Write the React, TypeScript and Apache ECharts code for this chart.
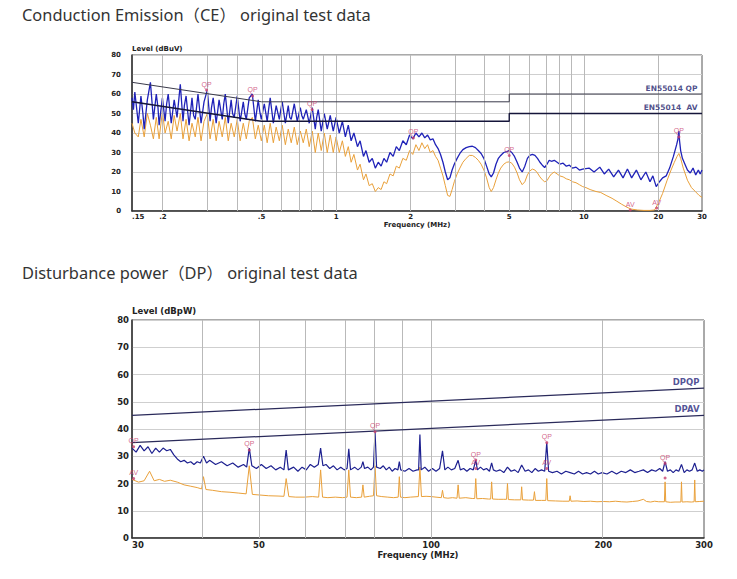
import React, { useEffect, useRef } from 'react';
import * as echarts from 'echarts';

// ---------- Chart 1: Conduction Emission ----------
const ceXTicks = [0.15, 0.2, 0.5, 1, 2, 5, 10, 20, 30];
const ceXTickLabels = ['.15', '.2', '.5', '1', '2', '5', '10', '20', '30'];
const ceGridFreqs = [0.2, 0.3, 0.4, 0.5, 0.6, 0.7, 0.8, 0.9, 1, 2, 3, 4, 5, 6, 7, 8, 9, 10, 20];

const ceLimitQP = [[0.15, 66], [0.5, 56], [5, 56], [5, 60], [30, 60]];
const ceLimitAV = [[0.15, 56], [0.5, 46], [5, 46], [5, 50], [30, 50]];

const ceQP = [
  [0.150, 58], [0.152, 52], [0.154, 61], [0.159, 45], [0.163, 59], [0.166, 50], [0.168, 42], [0.173, 57], [0.178, 66], [0.183, 47],
  [0.188, 60], [0.191, 53], [0.193, 44], [0.199, 58], [0.204, 46], [0.207, 55], [0.210, 60], [0.216, 45], [0.222, 57], [0.228, 48],
  [0.235, 65], [0.241, 46], [0.244, 54], [0.248, 59], [0.255, 44], [0.262, 58], [0.266, 49], [0.270, 47], [0.277, 60], [0.285, 45],
  [0.293, 56], [0.302, 62], [0.310, 46], [0.314, 53], [0.319, 58], [0.328, 45], [0.337, 57], [0.347, 47], [0.352, 55], [0.357, 60],
  [0.367, 45], [0.377, 57], [0.382, 50], [0.388, 48], [0.399, 59], [0.410, 46], [0.422, 56], [0.428, 50], [0.434, 47], [0.446, 58],
  [0.459, 60], [0.472, 46], [0.485, 57], [0.492, 51], [0.499, 47], [0.513, 55], [0.527, 46], [0.534, 52], [0.542, 58], [0.558, 45],
  [0.573, 54], [0.590, 47], [0.598, 52], [0.606, 56], [0.624, 45], [0.641, 54], [0.650, 48], [0.659, 47], [0.678, 55], [0.697, 46],
  [0.717, 53], [0.727, 49], [0.737, 47], [0.758, 52], [0.779, 45], [0.801, 53], [0.824, 42], [0.835, 48], [0.847, 52], [0.871, 41],
  [0.896, 50], [0.921, 42], [0.947, 49], [0.960, 45], [0.974, 41], [1.00, 48], [1.03, 40], [1.06, 46], [1.09, 38],
  [1.12, 44], [1.15, 36], [1.18, 40], [1.22, 33], [1.25, 36], [1.29, 28], [1.32, 31], [1.36, 25],
  [1.40, 27], [1.44, 22], [1.48, 25], [1.52, 23], [1.56, 27], [1.60, 25], [1.65, 30], [1.70, 28],
  [1.75, 33], [1.80, 31], [1.86, 36], [1.92, 34], [1.98, 39], [2.04, 37], [2.10, 40], [2.16, 38],
  [2.22, 40], [2.28, 37.5], [2.34, 39], [2.40, 36.5], [2.46, 37], [2.52, 34], [2.58, 32], [2.64, 29],
  [2.70, 25], [2.76, 20], [2.82, 16], [2.88, 17], [2.94, 21], [3.00, 24], [3.08, 27], [3.16, 29.5],
  [3.25, 31.5], [3.35, 32.5], [3.45, 33], [3.55, 33.2], [3.65, 32.5], [3.75, 31], [3.85, 29.5], [3.95, 27],
  [4.05, 23], [4.15, 19], [4.23, 17.5], [4.32, 19.5], [4.42, 24], [4.52, 27], [4.62, 28.5], [4.75, 30],
  [4.88, 30.5], [5.0, 31], [5.12, 30], [5.25, 28], [5.38, 25], [5.5, 22], [5.64, 20], [5.78, 23],
  [5.92, 27], [6.05, 28.5], [6.2, 29], [6.35, 28.5], [6.5, 27], [6.65, 25], [6.8, 23.5], [6.95, 22.3],
  [7.1, 24], [7.25, 26], [7.4, 25.5], [7.6, 26], [7.8, 25], [8.0, 24], [8.25, 24.5], [8.5, 23],
  [8.75, 23.5], [9.0, 22], [9.3, 22.5], [9.6, 21], [9.9, 21.5], [10.5, 22], [11.0, 20], [11.6, 22.5],
  [12.1, 19], [12.6, 21.5], [13.2, 17.5], [13.8, 21], [14.4, 17], [15.0, 21.5], [15.6, 17], [16.3, 21],
  [17.0, 16], [17.8, 20], [18.5, 15], [19.0, 18], [19.6, 12.5], [20.2, 15], [20.8, 17], [21.5, 18],
  [22.2, 22], [23.0, 28], [23.7, 34], [24.0, 37], [24.2, 41], [24.35, 36], [24.6, 31], [25.0, 27],
  [25.6, 24], [26.2, 21], [26.9, 19.5], [27.6, 22], [28.3, 18.5], [29.0, 21], [29.5, 19], [30, 21],
];

const ceAV = [
  [0.150, 45], [0.154, 40], [0.159, 38], [0.163, 47], [0.168, 38], [0.173, 50], [0.178, 44], [0.183, 37],
  [0.188, 48], [0.193, 37], [0.199, 51], [0.204, 40], [0.210, 46], [0.216, 37], [0.222, 49], [0.228, 41],
  [0.235, 50], [0.241, 37], [0.248, 47], [0.255, 36], [0.262, 45], [0.270, 38], [0.277, 48], [0.285, 36],
  [0.293, 46], [0.302, 50], [0.310, 37], [0.319, 47], [0.328, 36], [0.337, 46], [0.347, 38], [0.357, 48],
  [0.367, 36], [0.377, 45], [0.388, 38], [0.399, 47], [0.410, 36], [0.422, 45], [0.434, 37], [0.446, 46],
  [0.459, 48], [0.472, 37], [0.485, 44], [0.499, 36], [0.513, 44], [0.527, 35], [0.542, 45], [0.558, 35],
  [0.573, 43], [0.590, 36], [0.606, 44], [0.624, 34], [0.641, 42], [0.659, 35], [0.678, 43], [0.697, 34],
  [0.717, 41], [0.737, 35], [0.758, 42], [0.779, 33], [0.801, 41], [0.824, 30], [0.847, 40], [0.871, 31],
  [0.896, 40], [0.921, 30], [0.947, 39], [0.974, 30], [1.00, 38], [1.03, 30], [1.06, 36], [1.09, 28],
  [1.12, 33], [1.15, 25], [1.18, 29], [1.22, 21], [1.25, 24], [1.29, 16], [1.32, 19], [1.36, 13],
  [1.40, 14], [1.44, 10], [1.48, 12], [1.52, 11], [1.56, 15], [1.60, 14], [1.65, 19], [1.70, 18],
  [1.75, 23], [1.80, 22], [1.86, 27], [1.92, 26], [1.98, 31], [2.04, 29], [2.10, 34], [2.16, 31],
  [2.22, 35], [2.28, 32], [2.34, 34], [2.40, 30], [2.46, 31], [2.52, 28], [2.58, 26], [2.64, 22],
  [2.70, 18], [2.76, 13], [2.82, 8], [2.88, 7.5], [2.94, 11], [3.00, 15], [3.08, 19], [3.16, 22],
  [3.25, 25], [3.35, 27], [3.45, 28.5], [3.55, 28.5], [3.65, 27.5], [3.75, 26], [3.85, 24], [3.95, 21],
  [4.05, 17], [4.15, 12], [4.23, 10], [4.32, 12], [4.42, 16], [4.52, 19.5], [4.62, 22], [4.75, 24],
  [4.88, 25], [5.0, 25.2], [5.12, 24.5], [5.25, 22.5], [5.38, 19.5], [5.5, 16], [5.64, 13.5], [5.78, 15],
  [5.92, 18.5], [6.05, 20.5], [6.2, 21.5], [6.35, 21], [6.5, 19.5], [6.65, 17.5], [6.8, 16], [6.95, 15],
  [7.1, 15.5], [7.25, 17.5], [7.4, 19], [7.6, 20], [7.8, 19], [8.0, 18], [8.25, 17.5], [8.5, 16.5],
  [8.75, 16], [9.0, 15], [9.3, 14.5], [9.6, 13.5], [9.9, 12.5], [10.2, 12], [10.6, 11], [11.2, 10],
  [11.7, 9.5], [12.3, 8], [13.0, 6.5], [13.6, 5], [14.2, 3.5], [14.9, 2], [15.5, 1], [16.5, 0.5],
  [17.5, 0.3], [18.5, 0.3], [19.3, 0.5], [20.0, 4], [20.8, 9], [21.7, 15.8], [22.5, 21], [23.2, 25],
  [23.8, 28], [24.2, 29.5], [24.6, 27], [25.2, 22], [26.2, 15.8], [27.2, 12], [28.2, 10], [29.2, 8],
  [30, 7],
];

const ceMarkFreq = [0.30, 0.46, 0.80, 2.05, 5.0, 24.2, 15.4, 19.7];
const ceMarkLevel = [62, 59, 52, 37.5, 28.5, 38, 0.5, 1.5];
const ceMarkTag = ['QP', 'QP', 'QP', 'QP', 'QP', 'QP', 'AV', 'AV'];

// ---------- Chart 2: Disturbance power ----------
const dpXTicks = [30, 50, 100, 200, 300];
const dpXTickLabels = ['30', '50', '100', '200', '300'];
const dpGridFreqs = [40, 50, 60, 70, 80, 90, 100, 200];

const dpLimitQP = [[30, 45], [300, 55]];
const dpLimitAV = [[30, 35], [300, 45]];

const dpQP = [
  [30, 33], [30.5, 31.5], [31, 34], [31.5, 32], [32, 33.5], [32.5, 31], [33, 33], [33.5, 31.5],
  [34, 33], [34.5, 32], [35, 32.5], [35.5, 30.5], [36, 29], [36.5, 28], [37, 28.5], [37.5, 27.5],
  [38, 28], [38.5, 27], [39, 28], [39.5, 27.5], [40, 30], [40.5, 27.5], [41, 28.5], [42, 27],
  [43, 28], [44, 26.5], [45, 27.5], [46, 26], [47, 27], [47.6, 26], [48.1, 33], [48.6, 26.5],
  [49.5, 25.5], [50.5, 27], [51.5, 25.5], [52.5, 26.5], [53.5, 25], [54.5, 26], [55.3, 25], [55.8, 32.3],
  [56.3, 25], [57.5, 26], [58.5, 24.5], [59.5, 26], [60.5, 25], [61.5, 27], [62.5, 26], [63.5, 27],
  [64.1, 33], [64.7, 26.5], [65.5, 27], [66.5, 25.5], [67.5, 26.5], [68.5, 25], [69.5, 26], [70.5, 25],
  [71.3, 25.5], [71.8, 32.7], [72.3, 25], [73.5, 26], [74.5, 25], [75.5, 26], [76, 28], [76.5, 25.5],
  [77.5, 26], [78.5, 25], [79.3, 26], [79.8, 39], [80.3, 26], [81.5, 25.5], [82.5, 26.5], [83.5, 25],
  [84.5, 26], [85.5, 24.5], [86.5, 25.5], [87.5, 25], [88, 28], [88.5, 25], [90, 24.5], [91.5, 25.5],
  [93, 24.5], [94.5, 25], [95.1, 25], [95.6, 38], [96.1, 25], [97.5, 26], [99, 24.5], [100.5, 25.5],
  [102, 24.5], [103.5, 25.5], [104.7, 32], [105.7, 25], [107, 26], [108.5, 25], [110, 25.5], [111.5, 28.5],
  [112.5, 25], [114, 25.5], [115.5, 24.5], [117, 25.5], [118.5, 25], [119.7, 28.6], [120.5, 25], [122, 26],
  [123.5, 25], [125, 25.5], [126.5, 24.5], [127.6, 27.6], [128.5, 25], [130, 24.5], [132, 25], [134, 24],
  [136, 26], [138, 24.5], [140, 25], [142, 24], [144, 26.8], [146, 24.5], [148, 25], [150, 24],
  [152, 25.5], [154, 24.5], [156, 25], [158, 24.5], [159.3, 35], [160.5, 24.5], [163, 24], [166, 24.5],
  [169, 23.5], [172, 24.5], [175, 24], [178, 23.5], [181, 24.5], [184, 23.5], [187, 24], [190, 23.5],
  [193, 24.5], [196, 23.5], [199, 24], [203, 23.5], [207, 24.5], [211, 23.5], [215, 24.5], [219, 24],
  [223, 25], [227, 24], [231, 24.5], [235, 25], [239, 24], [243, 25], [247, 24.5], [251, 25.5],
  [254, 24.5], [256.5, 28], [259, 24.5], [262, 25], [265, 24], [268, 25], [271, 24.5], [274, 27],
  [277, 24], [280, 25], [283, 24.5], [286, 25], [289, 27.5], [292, 24.5], [295, 25], [298, 24.5],
  [300, 25],
];

const dpAV = [
  [30, 21.5], [30.8, 20.5], [31.5, 21], [32.2, 24.5], [32.8, 21], [33.5, 21.5], [34.2, 20.8], [35, 21.2],
  [36, 20.5], [37, 19.5], [38, 19], [39, 18.5], [39.7, 18], [40, 22.5], [40.4, 17.8], [41.5, 17.5],
  [43, 17], [44.5, 16.8], [46, 16.5], [47.5, 16.2], [48.1, 26.5], [48.7, 16], [50, 15.8], [52, 15.5],
  [54, 15.4], [55.3, 15.3], [55.8, 21.8], [56.4, 15.2], [58, 15], [60, 15], [62, 15.2], [63.6, 15],
  [64.1, 25], [64.6, 15], [66, 14.8], [68, 15], [70, 14.8], [71.3, 15], [71.8, 25], [72.3, 15],
  [74, 14.8], [75.6, 15], [76, 19.5], [76.4, 15], [78, 15.3], [79.3, 15.5], [79.8, 26.5], [80.3, 15.5],
  [82, 15.2], [84, 15], [86, 14.8], [87.6, 15], [88, 22.5], [88.4, 15], [90, 14.8], [92, 15],
  [95, 15.2], [95.6, 26], [96.2, 15.2], [98, 15.3], [100, 15.2], [102, 15], [104.2, 14.8], [104.7, 17.5],
  [105.2, 14.8], [107, 14.6], [109, 14.8], [111, 14.6], [111.5, 19.5], [112, 14.6], [115, 14.8], [118, 14.5],
  [119.2, 14.5], [119.7, 21.8], [120.2, 14.4], [123, 14.5], [126, 14.3], [127.1, 14.3], [127.6, 20.6], [128.1, 14.3],
  [131, 14.2], [134, 14.2], [135.5, 14.2], [136, 20], [136.5, 14.1], [140, 14], [143.5, 14], [144, 18.8],
  [144.5, 14], [148, 13.9], [151, 13.9], [151.6, 17], [152.2, 13.8], [156, 13.8], [158.7, 13.8], [159.3, 21.8],
  [159.9, 13.7], [165, 13.6], [170, 13.5], [174.4, 13.5], [175, 15.5], [175.6, 13.5], [180, 13.6], [185, 13.4],
  [190, 13.5], [195, 13.3], [200, 13.4], [205, 13.3], [210, 13.5], [215, 13.3], [220, 13.2], [225, 13.4],
  [230, 13.6], [235, 14.2], [238, 13.4], [242, 13.2], [246, 13.5], [250, 13.3], [255.8, 13.3], [256.5, 20.6],
  [257.2, 13.3], [262, 13.1], [267, 13.2], [273.3, 13.2], [274, 20.6], [274.7, 13.2], [280, 13.3], [285, 13.2],
  [288.3, 13.3], [289, 21.3], [289.7, 13.3], [295, 13.4], [300, 13.5],
];

const dpMarkFreq = [30.2, 30.2, 48.1, 79.8, 119.7, 119.7, 159.3, 159.3, 256.5, 256.5];
const dpMarkLevel = [33.5, 21.8, 32.3, 39, 28.6, 25.5, 35, 25.5, 27.4, 22];
const dpMarkTag = ['QP', 'AV', 'QP', 'QP', 'QP', 'AV', 'QP', 'AV', 'QP', ''];

// ---------- helpers ----------
const L = (f: number) => Math.log10(f);
const toLog = (arr: number[][]) => arr.map(([f, v]) => [L(f), v]);
const fmtFactory = (ticks: number[], labels: string[]) => (v: number) => {
  for (let i = 0; i < ticks.length; i++) if (Math.abs(L(ticks[i]) - v) < 1e-4) return labels[i];
  return '';
};

const AX_FONT = 'DejaVu Sans';
const BLUE1 = '#1f22b8';
const BLUE2 = '#1d2090';
const ORANGE = '#e9a03a';
const MARK = '#c8406e';

function buildPanel(
  idx: number,
  xMin: number,
  xMax: number,
  ticks: number[],
  tickLabels: string[],
  gridFreqs: number[],
  yName: string,
  fs: number,
  yLabelMargin: number,
  nameGapX: number,
) {
  const xAxis = {
    type: 'value',
    gridIndex: idx,
    min: L(xMin),
    max: L(xMax),
    axisLine: { show: true, onZero: false, lineStyle: { color: '#333', width: 1.5 } },
    axisTick: { show: false },
    splitLine: { show: false },
    axisLabel: {
      customValues: ticks.map(L),
      formatter: fmtFactory(ticks, tickLabels),
      fontSize: fs,
      fontWeight: 'bold',
      color: '#222',
      margin: 2,
      fontFamily: AX_FONT,
      hideOverlap: false,
      alignMinLabel: 'left',
    },
    name: 'Frequency (MHz)',
    nameLocation: 'middle',
    nameGap: nameGapX,
    nameTextStyle: { fontSize: fs, fontWeight: 'bold', color: '#222', fontFamily: AX_FONT },
  };
  const yAxis = {
    type: 'value',
    gridIndex: idx,
    min: 0,
    max: 80,
    interval: 10,
    axisLine: { show: true, onZero: false, lineStyle: { color: '#333', width: 1.5 } },
    axisTick: { show: false },
    splitLine: { show: true, lineStyle: { color: '#cfcfcf', width: 1 } },
    axisLabel: { fontSize: fs, fontWeight: 'bold', color: '#222', margin: yLabelMargin, fontFamily: AX_FONT },
    name: yName,
    nameLocation: 'end',
    nameGap: 3,
    nameTextStyle: { align: 'left', verticalAlign: 'bottom', fontSize: fs, fontWeight: 'bold', color: '#222', fontFamily: AX_FONT, padding: 0 },
  };
  const gridSeries = {
    type: 'line',
    xAxisIndex: idx,
    yAxisIndex: idx,
    data: [[L(xMin), 0]],
    symbol: 'none',
    lineStyle: { opacity: 0 },
    silent: true,
    z: 1,
    markLine: {
      silent: true,
      symbol: ['none', 'none'],
      label: { show: false },
      lineStyle: { color: '#b9b9b9', width: 1, type: 'solid' },
      emphasis: { disabled: true },
      data: gridFreqs.map((f) => ({ xAxis: L(f) })),
      animation: false,
    },
  };
  return { xAxis, yAxis, gridSeries };
}

function nameLabel(idx: number, x: number, y: number, text: string, fs: number, color: string) {
  return {
    type: 'scatter',
    xAxisIndex: idx,
    yAxisIndex: idx,
    data: [[L(x), y]],
    symbolSize: 1,
    itemStyle: { color: 'rgba(0,0,0,0)' },
    silent: true,
    z: 6,
    label: {
      show: true,
      formatter: text,
      position: 'left',
      distance: 4,
      offset: [0, -6],
      fontSize: fs,
      fontWeight: 'bold',
      color,
      fontFamily: AX_FONT,
    },
  };
}

function markers(idx: number, freq: number[], level: number[], tag: string[]) {
  return {
    type: 'scatter',
    xAxisIndex: idx,
    yAxisIndex: idx,
    data: freq.map((f, i) => ({ value: [L(f), level[i]], name: tag[i] })),
    symbol: 'circle',
    symbolSize: 3,
    itemStyle: { color: MARK },
    silent: true,
    z: 7,
    label: {
      show: true,
      formatter: (p: any) => p.name,
      position: 'top',
      distance: 1,
      fontSize: 7,
      color: MARK,
      fontFamily: 'Liberation Sans',
    },
  };
}

export default function App() {
  const ref = useRef<HTMLDivElement>(null);
  useEffect(() => {
    if (!ref.current) return;
    document.body.style.margin = '0';
    const chart = echarts.init(ref.current, undefined, { renderer: 'svg' });

    const p1 = buildPanel(0, 0.15, 30, ceXTicks, ceXTickLabels, ceGridFreqs, 'Level (dBuV)', 7, 11, 10);
    const p2 = buildPanel(1, 30, 300, dpXTicks, dpXTickLabels, dpGridFreqs, 'Level (dBpW)', 8.5, 3, 12);

    const titleStyle = { fontSize: 16.4, fontWeight: 'normal', color: '#333', fontFamily: 'Noto Sans, Noto Sans CJK SC' };
    const option: any = {
      animation: false,
      backgroundColor: '#ffffff',
      title: [
        { text: 'Conduction Emission（CE） original test data', left: 22, top: 6, padding: 0, textStyle: titleStyle },
        { text: 'Disturbance power（DP） original test data', left: 22, top: 264, padding: 0, textStyle: titleStyle },
      ],
      grid: [
        { left: 132, top: 55, width: 570, height: 156, show: true, borderColor: '#555', borderWidth: 1, backgroundColor: 'transparent', outerBoundsMode: 'none' },
        { left: 132, top: 320, width: 572, height: 218, show: true, borderColor: '#555', borderWidth: 1, backgroundColor: 'transparent', outerBoundsMode: 'none' },
      ],
      xAxis: [p1.xAxis, p2.xAxis],
      yAxis: [p1.yAxis, p2.yAxis],
      series: [
        p1.gridSeries,
        p2.gridSeries,
        // CE traces
        { type: 'line', xAxisIndex: 0, yAxisIndex: 0, data: toLog(ceAV), symbol: 'none', lineStyle: { color: ORANGE, width: 1 }, z: 3, silent: true },
        { type: 'line', xAxisIndex: 0, yAxisIndex: 0, data: toLog(ceQP), symbol: 'none', lineStyle: { color: BLUE1, width: 1.3 }, z: 4, silent: true },
        { type: 'line', xAxisIndex: 0, yAxisIndex: 0, data: toLog(ceLimitQP), symbol: 'none', lineStyle: { color: '#3a3a4a', width: 1 }, z: 5, silent: true },
        { type: 'line', xAxisIndex: 0, yAxisIndex: 0, data: toLog(ceLimitAV), symbol: 'none', lineStyle: { color: '#15153a', width: 1.4 }, z: 5, silent: true },
        nameLabel(0, 30, 60, 'EN55014 QP', 7.5, '#1f1f6e'),
        nameLabel(0, 30, 50, 'EN55014  AV', 7.5, '#1f1f6e'),
        markers(0, ceMarkFreq, ceMarkLevel, ceMarkTag),
        // DP traces
        { type: 'line', xAxisIndex: 1, yAxisIndex: 1, data: toLog(dpAV), symbol: 'none', lineStyle: { color: ORANGE, width: 1 }, z: 3, silent: true },
        { type: 'line', xAxisIndex: 1, yAxisIndex: 1, data: toLog(dpQP), symbol: 'none', lineStyle: { color: BLUE2, width: 1.2 }, z: 4, silent: true },
        { type: 'line', xAxisIndex: 1, yAxisIndex: 1, data: toLog(dpLimitQP), symbol: 'none', lineStyle: { color: '#2a2a5a', width: 1.2 }, z: 5, silent: true },
        { type: 'line', xAxisIndex: 1, yAxisIndex: 1, data: toLog(dpLimitAV), symbol: 'none', lineStyle: { color: '#2a2a5a', width: 1.2 }, z: 5, silent: true },
        nameLabel(1, 300, 55, 'DPQP', 8.5, '#26267a'),
        nameLabel(1, 300, 45, 'DPAV', 8.5, '#26267a'),
        markers(1, dpMarkFreq, dpMarkLevel, dpMarkTag),
      ],
    };
    chart.setOption(option);
    return () => chart.dispose();
  }, []);

  return (
    <div
      ref={ref}
      style={{ position: 'absolute', left: 0, top: 0, width: 737, height: 579, background: '#fff' }}
    />
  );
}
